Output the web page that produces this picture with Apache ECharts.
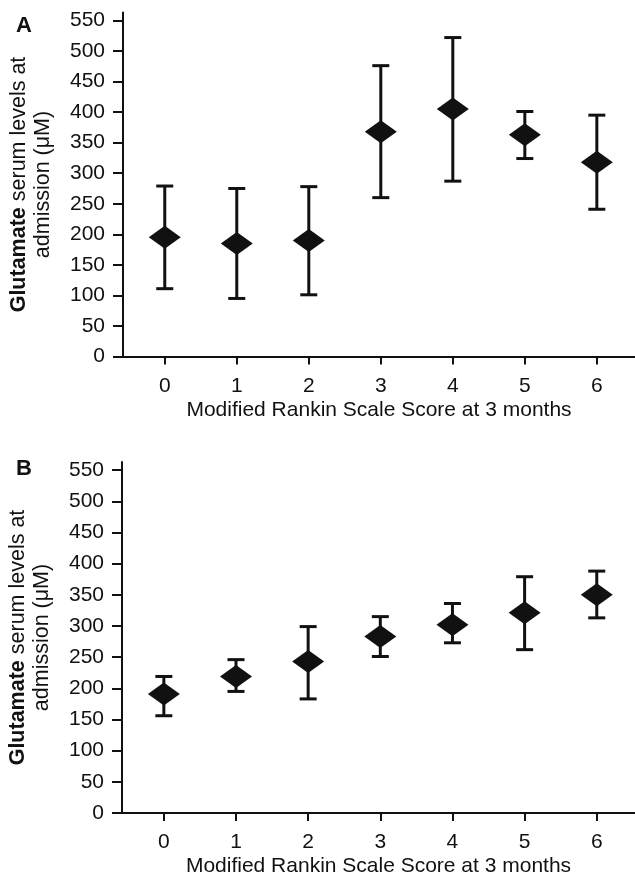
<!DOCTYPE html>
<html>
<head>
<meta charset="utf-8">
<script src="https://cdn.jsdelivr.net/npm/echarts@6/dist/echarts.min.js"></script>
<style>
  html, body { margin: 0; padding: 0; background: #fff; }
  #chart { width: 635px; height: 873px; }
</style>
</head>
<body>
<div id="chart"></div>
<script>
// Modified Rankin Scale score categories (x tick labels)
const categories = ['0', '1', '2', '3', '4', '5', '6']
const yTicks = [0, 50, 100, 150, 200, 250, 300, 350, 400, 450, 500, 550]

// Panel A
const meanA = [195, 185, 190, 368, 405, 363, 318]
const lowA = [111, 95, 101, 260, 287, 324, 241]
const highA = [279, 275, 278, 476, 522, 401, 395]

// Panel B
const meanB = [191, 219, 243, 283, 302, 321, 350]
const lowB = [156, 195, 183, 251, 273, 262, 313]
const highB = [219, 246, 299, 315, 336, 379, 388]

const FONT = '"Liberation Sans", Arial, Helvetica, sans-serif'
const INK = '#111'

const chart = echarts.init(document.getElementById('chart'))

const renderErrorBar = (params, api) => {
  const x = api.value(0)
  const lo = api.coord([x, api.value(1)])
  const hi = api.coord([x, api.value(2)])
  const half = 8.5
  const style = { stroke: INK, lineWidth: 3 }
  return {
    type: 'group',
    children: [
      { type: 'line', shape: { x1: lo[0], y1: lo[1], x2: hi[0], y2: hi[1] }, style },
      { type: 'line', shape: { x1: lo[0] - half, y1: lo[1], x2: lo[0] + half, y2: lo[1] }, style },
      { type: 'line', shape: { x1: hi[0] - half, y1: hi[1], x2: hi[0] + half, y2: hi[1] }, style }
    ]
  }
}

const makeXAxis = (gridIndex) => ({
  type: 'value',
  gridIndex,
  min: -0.58,
  max: 6.53,
  name: 'Modified Rankin Scale Score at 3 months',
  nameLocation: 'middle',
  nameGap: 43,
  nameTextStyle: { color: INK, fontSize: 21, fontFamily: FONT },
  axisLine: { onZero: false, lineStyle: { color: INK, width: 2 } },
  axisTick: {
    customValues: categories.map((c, i) => i),
    length: 8,
    lineStyle: { color: INK, width: 2 }
  },
  axisLabel: {
    customValues: categories.map((c, i) => i),
    formatter: (v) => categories[Math.round(v)],
    margin: 19,
    color: INK,
    fontSize: 21,
    fontFamily: FONT
  },
  splitLine: { show: false }
})

const makeYAxis = (gridIndex) => ({
  type: 'value',
  gridIndex,
  min: 0,
  max: 563,
  name: '{b|Glutamate} serum levels at\nadmission (μM)',
  nameLocation: 'middle',
  nameRotate: 90,
  nameGap: 68,
  nameTextStyle: {
    color: INK,
    fontSize: 21.5,
    fontFamily: FONT,
    lineHeight: 24,
    rich: { b: { fontWeight: 'bold', fontSize: 21.5, fontFamily: FONT, color: INK, lineHeight: 24 } }
  },
  axisLine: { show: true, onZero: false, lineStyle: { color: INK, width: 2 } },
  axisTick: { show: true, customValues: yTicks, length: 10, lineStyle: { color: INK, width: 2 } },
  axisLabel: {
    customValues: yTicks,
    margin: 18,
    color: INK,
    fontSize: 21,
    fontFamily: FONT
  },
  splitLine: { show: false }
})

const points = (mean) => mean.map((m, i) => [i, m])
const bars = (low, high) => low.map((l, i) => [i, l, high[i]])

const option = {
  backgroundColor: '#fff',
  animation: false,
  title: [
    { text: 'A', left: 11, top: 10, textStyle: { fontSize: 22, fontWeight: 'bold', color: INK, fontFamily: FONT } },
    { text: 'B', left: 11, top: 453, textStyle: { fontSize: 22, fontWeight: 'bold', color: INK, fontFamily: FONT } }
  ],
  grid: [
    { left: 123, right: 0, top: 12.5, height: 344, outerBoundsMode: 'none' },
    { left: 122, right: 0, top: 462, height: 351, outerBoundsMode: 'none' }
  ],
  xAxis: [makeXAxis(0), makeXAxis(1)],
  yAxis: [makeYAxis(0), makeYAxis(1)],
  series: [
    {
      type: 'custom',
      xAxisIndex: 0,
      yAxisIndex: 0,
      renderItem: renderErrorBar,
      data: bars(lowA, highA),
      z: 2
    },
    {
      type: 'scatter',
      xAxisIndex: 0,
      yAxisIndex: 0,
      symbol: 'diamond',
      symbolSize: [32, 23],
      itemStyle: { color: INK, opacity: 1 },
      data: points(meanA),
      z: 3
    },
    {
      type: 'custom',
      xAxisIndex: 1,
      yAxisIndex: 1,
      renderItem: renderErrorBar,
      data: bars(lowB, highB),
      z: 2
    },
    {
      type: 'scatter',
      xAxisIndex: 1,
      yAxisIndex: 1,
      symbol: 'diamond',
      symbolSize: [32, 23],
      itemStyle: { color: INK, opacity: 1 },
      data: points(meanB),
      z: 3
    }
  ]
}

chart.setOption(option)
</script>
</body>
</html>
